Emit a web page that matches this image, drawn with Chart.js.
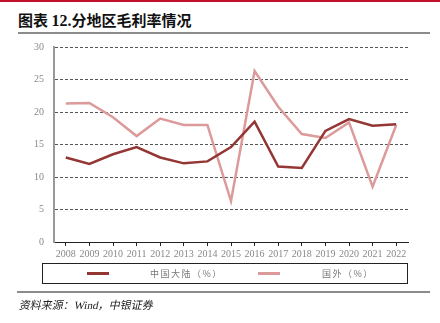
<!DOCTYPE html>
<html>
<head>
<meta charset="utf-8">
<script src="https://cdn.jsdelivr.net/npm/chart.js@4"></script>
<style>
    body { margin: 0; width: 440px; height: 323px; position: relative; background: #fff; overflow: hidden; }
    #topbar { position: absolute; left: 0; top: 0; width: 440px; height: 2px; background: #c0102a; }
    #title { position: absolute; left: 18px; top: 9px; font: bold 15px "Noto Sans CJK SC", sans-serif; color: #111; white-space: nowrap; }
    #title .num { font-family: "Liberation Serif", serif; font-size: 16px; }
    #rule1 { position: absolute; left: 18px; top: 32px; width: 412px; height: 2px; background: #8c8c8c; }
    #wrap { position: absolute; left: 0; top: 0; width: 440px; height: 323px; }
    #legend { position: absolute; left: 42px; top: 263px; width: 364px; height: 19px; border: 1px solid #222; box-sizing: content-box; }
    .item { position: absolute; top: 0; height: 19px; font: 9px "Noto Sans CJK SC", sans-serif; color: #777; letter-spacing: 1.5px; line-height: 19px; }
    .swatch { position: absolute; top: 8px; width: 22px; height: 3px; }
    #rule2 { position: absolute; left: 17px; top: 291px; width: 413px; height: 2px; background: #8c8c8c; }
    #source { position: absolute; left: 18px; top: 296px; font: 11px "Liberation Serif", "Noto Sans CJK SC", serif; color: #222; white-space: nowrap; transform: skewX(-12deg); transform-origin: left bottom; }
</style>
</head>
<body>
<div id="topbar"></div>
<div id="title">图表 <span class="num">12.</span>分地区毛利率情况</div>
<div id="rule1"></div>
<div id="wrap"><canvas id="chart" width="440" height="323"></canvas></div>
<div id="legend">
    <div class="swatch" style="left:44px;background:#943634"></div>
    <div class="item" style="left:107px">中国大陆（%）</div>
    <div class="swatch" style="left:215px;background:#dc9a9a"></div>
    <div class="item" style="left:279px">国外（%）</div>
</div>
<div id="rule2"></div>
<div id="source">资料来源：Wind，中银证券</div>
<script>
const years = ['2008', '2009', '2010', '2011', '2012', '2013', '2014', '2015', '2016', '2017', '2018', '2019', '2020', '2021', '2022'];
const mainland = [13.0, 12.0, 13.5, 14.6, 13.0, 12.1, 12.4, 14.6, 18.5, 11.6, 11.4, 17.1, 18.9, 17.9, 18.1];
const overseas = [21.3, 21.4, 19.2, 16.3, 19.0, 18.0, 18.0, 6.3, 26.3, 20.8, 16.6, 16.0, 18.4, 8.5, 18.0];

const tickFont = { family: '"Liberation Serif", serif', size: 10 };

new Chart(document.getElementById('chart'), {
    type: 'line',
    data: {
        labels: years,
        datasets: [
            {
                label: '中国大陆（%）',
                data: mainland,
                borderColor: '#943634',
                backgroundColor: '#943634',
                borderWidth: 2.5,
                pointRadius: 0,
                tension: 0
            },
            {
                label: '国外（%）',
                data: overseas,
                borderColor: '#dc9a9a',
                backgroundColor: '#dc9a9a',
                borderWidth: 2.5,
                pointRadius: 0,
                tension: 0
            }
        ]
    },
    options: {
        responsive: false,
        animation: false,
        layout: { padding: { left: 0, top: 47, right: 32, bottom: 61 } },
        plugins: {
            legend: { display: false },
            tooltip: { enabled: false }
        },
        scales: {
            x: {
                offset: true,
                afterFit: (scale) => { scale.height = 20; },
                grid: {
                    offset: false,
                    drawOnChartArea: false,
                    color: '#222',
                    tickLength: 4
                },
                border: { color: '#222', width: 1 },
                ticks: { color: '#888', font: tickFont, padding: 2, maxRotation: 0, autoSkip: false }
            },
            y: {
                min: 0,
                max: 30,
                afterFit: (scale) => { scale.width = 54; },
                ticks: { stepSize: 5, color: '#888', font: tickFont, padding: 10 },
                grid: {
                    drawTicks: false,
                    color: (ctx) => ctx.tick && ctx.tick.value === 0 ? 'rgba(0,0,0,0)' : '#555',
                    lineWidth: 1
                },
                border: { color: '#999', width: 2, dash: [3, 2] }
            }
        }
    }
});
</script>
</body>
</html>
